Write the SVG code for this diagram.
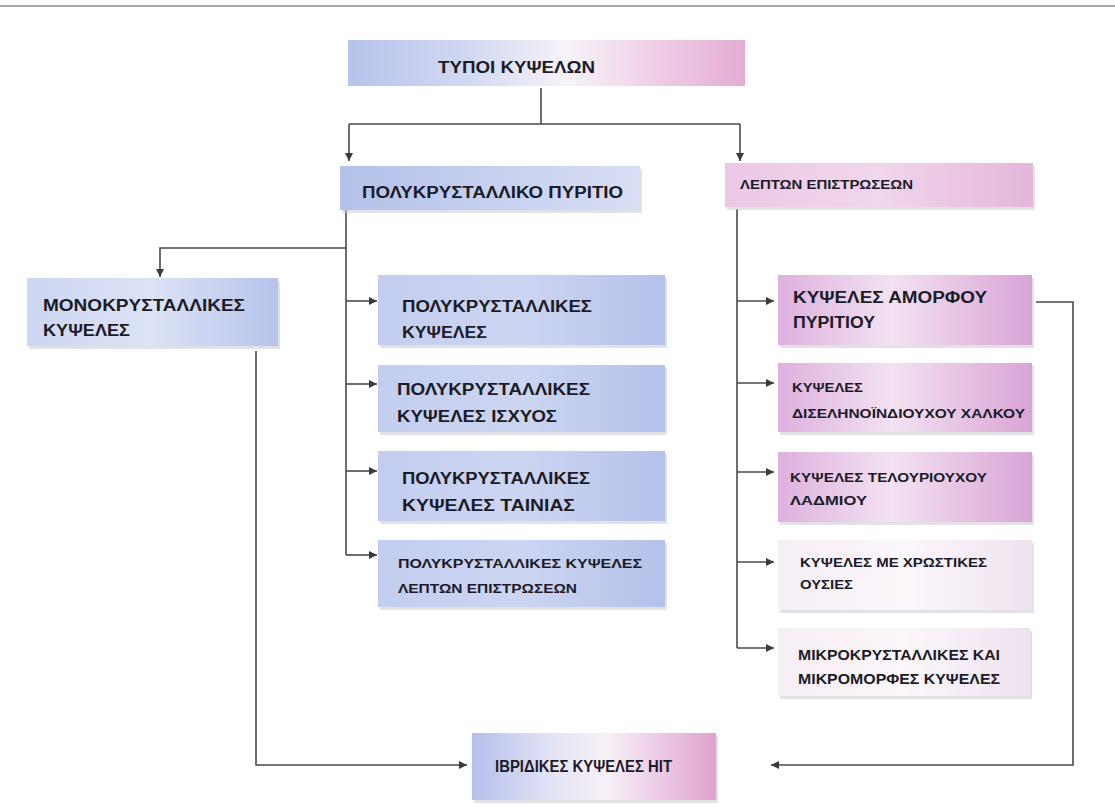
<svg xmlns="http://www.w3.org/2000/svg" width="1115" height="811" viewBox="0 0 1115 811">
<defs>
<style>
.t{font-family:"Liberation Sans","DejaVu Sans",sans-serif;font-weight:bold;fill:#1c1c28}
.f16{font-size:16px}.f13{font-size:13px}.f14{font-size:14px}.f17{font-size:17px}
.sh{fill:#c9c9d2;opacity:0.55}
.ln{fill:none;stroke:#4a4a4a;stroke-width:1.6}
</style>
<marker id="ah" markerUnits="userSpaceOnUse" markerWidth="9" markerHeight="9" refX="8" refY="4" orient="auto">
<path d="M0,0 L8,4 L0,8 z" fill="#3a3a3a"/>
</marker>
<linearGradient id="gTop" x1="0" y1="0" x2="1" y2="0">
<stop offset="0" stop-color="#b7c3ec"/><stop offset="0.3" stop-color="#d2d8f2"/><stop offset="0.55" stop-color="#f6f3f8"/><stop offset="0.75" stop-color="#f0d2e8"/><stop offset="1" stop-color="#e4acd4"/>
</linearGradient>
<linearGradient id="gBlue" x1="0" y1="0" x2="1" y2="0">
<stop offset="0" stop-color="#b3c1ea"/><stop offset="0.6" stop-color="#c9d3f0"/><stop offset="1" stop-color="#d8def4"/>
</linearGradient>
<linearGradient id="gBlue2" x1="0" y1="0" x2="1" y2="0">
<stop offset="0" stop-color="#c3cdef"/><stop offset="0.5" stop-color="#ccd5f1"/><stop offset="1" stop-color="#b4c1ea"/>
</linearGradient>
<linearGradient id="gMono" x1="0" y1="0" x2="1" y2="0">
<stop offset="0" stop-color="#cdd6f2"/><stop offset="0.5" stop-color="#dde3f6"/><stop offset="1" stop-color="#b6c3eb"/>
</linearGradient>
<linearGradient id="gPinkH" x1="0" y1="0" x2="1" y2="0">
<stop offset="0" stop-color="#ecc8e6"/><stop offset="0.5" stop-color="#f1d6ec"/><stop offset="1" stop-color="#e4b6da"/>
</linearGradient>
<linearGradient id="gPink" x1="0" y1="0" x2="1" y2="0">
<stop offset="0" stop-color="#deb0de"/><stop offset="0.45" stop-color="#f3e2f2"/><stop offset="1" stop-color="#d9a4d5"/>
</linearGradient>
<linearGradient id="gLight" x1="0" y1="0" x2="1" y2="0">
<stop offset="0" stop-color="#f6eef5"/><stop offset="0.5" stop-color="#fbf7fb"/><stop offset="1" stop-color="#efe2ef"/>
</linearGradient>
<linearGradient id="gHit" x1="0" y1="0" x2="1" y2="0">
<stop offset="0" stop-color="#b5bfeb"/><stop offset="0.35" stop-color="#e6e6f6"/><stop offset="0.55" stop-color="#f7f0f7"/><stop offset="1" stop-color="#e0a2d0"/>
</linearGradient>
</defs>
<rect x="0" y="0" width="1115" height="811" fill="#ffffff"/>
<rect x="0" y="5" width="1115" height="2" fill="#a8a8a8"/>

<g id="connectors">
<path class="ln" d="M541,88 V124"/>
<path class="ln" d="M349,124 H740"/>
<path class="ln" d="M349,124 V161" marker-end="url(#ah)"/>
<path class="ln" d="M740,124 V161" marker-end="url(#ah)"/>
<path class="ln" d="M346,210 V555"/>
<path class="ln" d="M346,248 H160 V277" marker-end="url(#ah)"/>
<path class="ln" d="M346,301 H377" marker-end="url(#ah)"/>
<path class="ln" d="M346,384 H377" marker-end="url(#ah)"/>
<path class="ln" d="M346,471 H377" marker-end="url(#ah)"/>
<path class="ln" d="M346,555 H377" marker-end="url(#ah)"/>
<path class="ln" d="M737,209 V648"/>
<path class="ln" d="M737,301 H774" marker-end="url(#ah)"/>
<path class="ln" d="M737,383 H774" marker-end="url(#ah)"/>
<path class="ln" d="M737,472 H774" marker-end="url(#ah)"/>
<path class="ln" d="M737,562 H774" marker-end="url(#ah)"/>
<path class="ln" d="M737,648 H774" marker-end="url(#ah)"/>
<path class="ln" d="M256,351 V765 H467" marker-end="url(#ah)"/>
<path class="ln" d="M1036,302 H1073 V765 H771" marker-end="url(#ah)"/>
</g>

<g id="n-types">
<rect x="348" y="40" width="397" height="46" fill="url(#gTop)"/>
<text class="t f16" x="438" y="73" textLength="157" lengthAdjust="spacingAndGlyphs">ΤΥΠΟΙ ΚΥΨΕΛΩΝ</text>
</g>
<g id="n-poly-si">
<rect class="sh" x="342" y="169" width="300" height="44"/>
<rect x="340" y="166" width="300" height="44" fill="url(#gBlue)"/>
<text class="t f16" x="362" y="198" textLength="261" lengthAdjust="spacingAndGlyphs">ΠΟΛΥΚΡΥΣΤΑΛΛΙΚΟ ΠΥΡΙΤΙΟ</text>
</g>
<g id="n-thin">
<rect class="sh" x="727" y="166" width="308" height="44"/>
<rect x="725" y="163" width="308" height="44" fill="url(#gPinkH)"/>
<text class="t f13" x="740" y="189" textLength="173" lengthAdjust="spacingAndGlyphs">ΛΕΠΤΩΝ ΕΠΙΣΤΡΩΣΕΩΝ</text>
</g>
<g id="n-mono">
<rect class="sh" x="29" y="281" width="251" height="68"/>
<rect x="27" y="278" width="251" height="68" fill="url(#gMono)"/>
<text class="t f17" x="43" y="311" textLength="202" lengthAdjust="spacingAndGlyphs">ΜΟΝΟΚΡΥΣΤΑΛΛΙΚΕΣ</text>
<text class="t f17" x="43" y="336" textLength="87" lengthAdjust="spacingAndGlyphs">ΚΥΨΕΛΕΣ</text>
</g>
<g id="n-poly-cells">
<rect class="sh" x="380" y="278" width="287" height="70"/>
<rect x="378" y="275" width="287" height="70" fill="url(#gBlue2)"/>
<text class="t f16" x="402" y="312" textLength="190" lengthAdjust="spacingAndGlyphs">ΠΟΛΥΚΡΥΣΤΑΛΛΙΚΕΣ</text>
<text class="t f16" x="402" y="338" textLength="85" lengthAdjust="spacingAndGlyphs">ΚΥΨΕΛΕΣ</text>
</g>
<g id="n-poly-power">
<rect class="sh" x="380" y="368" width="287" height="67"/>
<rect x="378" y="365" width="287" height="67" fill="url(#gBlue2)"/>
<text class="t f16" x="397" y="395" textLength="193" lengthAdjust="spacingAndGlyphs">ΠΟΛΥΚΡΥΣΤΑΛΛΙΚΕΣ</text>
<text class="t f16" x="397" y="422" textLength="160" lengthAdjust="spacingAndGlyphs">ΚΥΨΕΛΕΣ ΙΣΧΥΟΣ</text>
</g>
<g id="n-poly-ribbon">
<rect class="sh" x="380" y="454" width="287" height="70"/>
<rect x="378" y="451" width="287" height="70" fill="url(#gBlue2)"/>
<text class="t f16" x="402" y="484" textLength="188" lengthAdjust="spacingAndGlyphs">ΠΟΛΥΚΡΥΣΤΑΛΛΙΚΕΣ</text>
<text class="t f16" x="402" y="511" textLength="173" lengthAdjust="spacingAndGlyphs">ΚΥΨΕΛΕΣ ΤΑΙΝΙΑΣ</text>
</g>
<g id="n-poly-thin">
<rect class="sh" x="380" y="543" width="287" height="67"/>
<rect x="378" y="540" width="287" height="67" fill="url(#gBlue2)"/>
<text class="t f13" x="398" y="568" textLength="244" lengthAdjust="spacingAndGlyphs">ΠΟΛΥΚΡΥΣΤΑΛΛΙΚΕΣ ΚΥΨΕΛΕΣ</text>
<text class="t f13" x="398" y="593" textLength="179" lengthAdjust="spacingAndGlyphs">ΛΕΠΤΩΝ ΕΠΙΣΤΡΩΣΕΩΝ</text>
</g>
<g id="n-amorph">
<rect class="sh" x="780" y="278" width="254" height="70"/>
<rect x="778" y="275" width="254" height="70" fill="url(#gPink)"/>
<text class="t f16" x="793" y="303" textLength="194" lengthAdjust="spacingAndGlyphs">ΚΥΨΕΛΕΣ ΑΜΟΡΦΟΥ</text>
<text class="t f16" x="793" y="328" textLength="82" lengthAdjust="spacingAndGlyphs">ΠΥΡΙΤΙΟΥ</text>
</g>
<g id="n-cigs">
<rect class="sh" x="780" y="366" width="254" height="69"/>
<rect x="778" y="363" width="254" height="69" fill="url(#gPink)"/>
<text class="t f13" x="792" y="392" textLength="71" lengthAdjust="spacingAndGlyphs">ΚΥΨΕΛΕΣ</text>
<text class="t f13" x="792" y="418" textLength="233" lengthAdjust="spacingAndGlyphs">ΔΙΣΕΛΗΝΟΪΝΔΙΟΥΧΟΥ ΧΑΛΚΟΥ</text>
</g>
<g id="n-cdte">
<rect class="sh" x="780" y="455" width="254" height="70"/>
<rect x="778" y="452" width="254" height="70" fill="url(#gPink)"/>
<text class="t f13" x="790" y="482" textLength="197" lengthAdjust="spacingAndGlyphs">ΚΥΨΕΛΕΣ ΤΕΛΟΥΡΙΟΥΧΟΥ</text>
<text class="t f13" x="790" y="505" textLength="77" lengthAdjust="spacingAndGlyphs">ΛΑΔΜΙΟΥ</text>
</g>
<g id="n-dye">
<rect class="sh" x="780" y="543" width="254" height="70"/>
<rect x="778" y="540" width="254" height="70" fill="url(#gLight)"/>
<text class="t f13" x="800" y="567" textLength="187" lengthAdjust="spacingAndGlyphs">ΚΥΨΕΛΕΣ ΜΕ ΧΡΩΣΤΙΚΕΣ</text>
<text class="t f13" x="800" y="589" textLength="53" lengthAdjust="spacingAndGlyphs">ΟΥΣΙΕΣ</text>
</g>
<g id="n-micro">
<rect class="sh" x="780" y="631" width="252" height="68"/>
<rect x="778" y="628" width="252" height="68" fill="url(#gLight)"/>
<text class="t f14" x="798" y="660" textLength="202" lengthAdjust="spacingAndGlyphs">ΜΙΚΡΟΚΡΥΣΤΑΛΛΙΚΕΣ ΚΑΙ</text>
<text class="t f14" x="798" y="684" textLength="202" lengthAdjust="spacingAndGlyphs">ΜΙΚΡΟΜΟΡΦΕΣ ΚΥΨΕΛΕΣ</text>
</g>
<g id="n-hit">
<rect class="sh" x="474" y="736" width="244" height="67"/>
<rect x="472" y="733" width="244" height="67" fill="url(#gHit)"/>
<text class="t f16" x="495" y="772" textLength="177" lengthAdjust="spacingAndGlyphs">ΙΒΡΙΔΙΚΕΣ ΚΥΨΕΛΕΣ HIT</text>
</g>
</svg>
